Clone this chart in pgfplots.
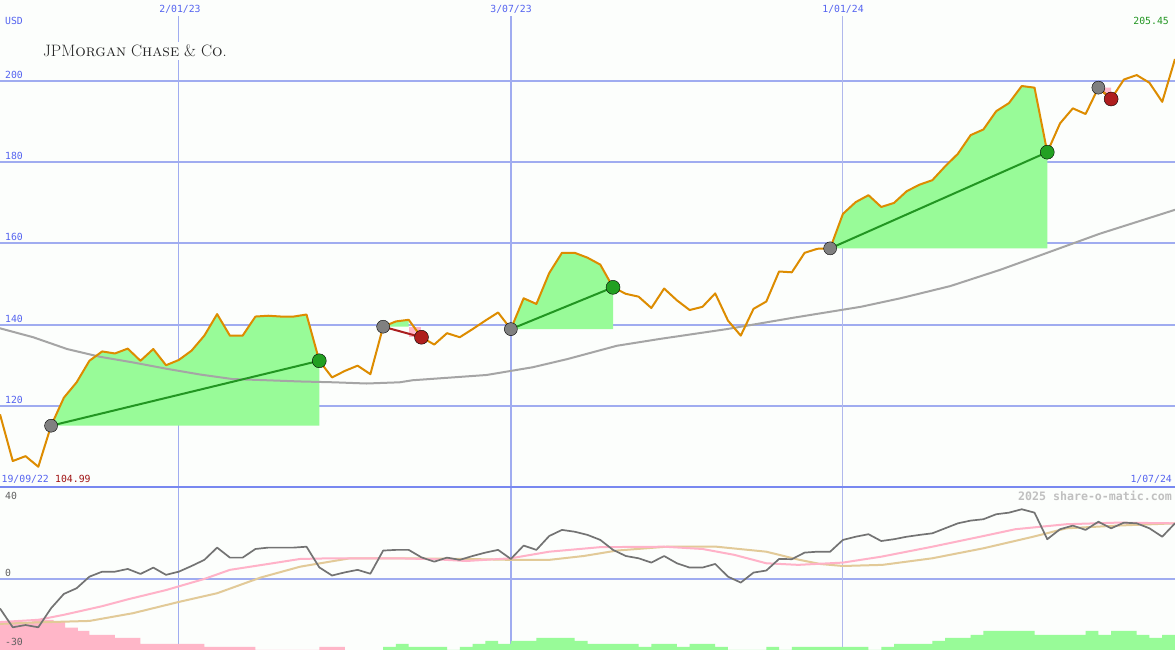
\documentclass[border=0pt]{standalone}
\usepackage{pgfplots}
\pgfplotsset{compat=1.18}
\usepackage{fontspec}
\newfontfamily\monofont{DejaVu Sans Mono}
\definecolor{bg}{RGB}{252,254,252}
\definecolor{lblue}{RGB}{85,100,240}
\definecolor{gridb}{RGB}{160,172,240}
\definecolor{gridc}{RGB}{176,184,236}
\definecolor{sepb}{RGB}{120,136,240}
\definecolor{priceor}{RGB}{221,140,0}
\definecolor{magrey}{RGB}{165,165,165}
\definecolor{fillg}{RGB}{152,251,152}
\definecolor{fillp}{RGB}{255,182,200}
\definecolor{tradeg}{RGB}{34,150,34}
\definecolor{trader}{RGB}{170,30,30}
\definecolor{dotg}{RGB}{34,160,34}
\definecolor{dotr}{RGB}{175,30,30}
\definecolor{dotgrey}{RGB}{128,128,128}
\definecolor{oscgrey}{RGB}{115,115,115}
\definecolor{pinkl}{RGB}{255,178,200}
\definecolor{tanl}{RGB}{226,202,152}
\definecolor{wm}{RGB}{192,192,192}
\definecolor{lgrey}{RGB}{96,96,96}
\definecolor{numgreen}{RGB}{34,150,34}
\definecolor{numred}{RGB}{160,20,20}
\pgfplotsset{
  panel/.style={scale only axis, width=1175pt, xmin=0, xmax=92,
    axis line style={draw=none}, tick style={draw=none},
    xticklabels={}, yticklabels={}, anchor=south west}
}
\newcommand{\lbl}{\monofont\fontsize{9.8}{10}\selectfont}
\begin{document}
\begin{tikzpicture}[x=1pt,y=1pt]
\path[use as bounding box, fill=bg] (0,0) rectangle (1175,650);

% ---------------- top panel ----------------
\begin{axis}[panel, at={(0pt,163pt)}, height=487pt, ymin=100, ymax=220,
  ytick={120,140,160,180,200}, xtick=\empty, ymajorgrids,
  grid style={gridb, line width=2pt}]
\draw[gridb, line width=1.2pt] (axis cs:14,100) -- (axis cs:14,216);
\draw[gridb, line width=1.8pt] (axis cs:40,100) -- (axis cs:40,216);
\draw[gridc, line width=1pt] (axis cs:66,100) -- (axis cs:66,216);
% trade fills
\addplot[fill=fillg, draw=none] coordinates {(4,115.1) (5,122.0) (6,125.8) (7,131.1) (8,133.4) (9,132.9) (10,134.1) (11,131.1) (12,134.0) (13,130.0) (14,131.3) (15,133.6) (16,137.3) (17,142.6) (18,137.3) (19,137.3) (20,142.0) (21,142.2) (22,142.0) (23,142.0) (24,142.5) (25,131.1) (25,115.1)} -- cycle;
\addplot[fill=fillg, draw=none] coordinates {(30,139.5) (31,140.8) (32,141.2) (32,139.5)} -- cycle;
\addplot[fill=fillp, draw=none] coordinates {(32,139.5) (33,139.5) (33,136.9) (32,136.9)} -- cycle;
\addplot[fill=fillg, draw=none] coordinates {(40,138.9) (41,146.5) (42,145.1) (43,152.7) (44,157.7) (45,157.7) (46,156.5) (47,154.8) (48,149.2) (48,138.9)} -- cycle;
\addplot[fill=fillg, draw=none] coordinates {(65,158.8) (66,167.3) (67,170.2) (68,171.9) (69,169.0) (70,170.0) (71,172.9) (72,174.5) (73,175.6) (74,179.0) (75,182.1) (76,186.7) (77,188.1) (78,192.6) (79,194.6) (80,198.8) (81,198.4) (82,182.5) (82,158.8)} -- cycle;
\addplot[fill=fillp, draw=none] coordinates {(86,198.4) (87,198.4) (87,195.6)} -- cycle;
% moving average
\addplot[magrey, line width=2pt] coordinates {(0,139.1) (2.6,136.9) (5.25,134.0) (7.8,132.1) (10.4,130.7) (13.1,129.1) (15.7,127.7) (18.2,126.6) (20.9,126.3) (23.5,126.0) (26.1,125.8) (28.7,125.5) (31.3,125.8) (32.3,126.3) (38.1,127.6) (41.7,129.5) (44.4,131.5) (48.3,134.8) (51.7,136.5) (56.9,138.9) (62.1,141.7) (67.4,144.4) (70.5,146.5) (74.4,149.5) (78.3,153.5) (80.5,156.0) (86.1,162.4) (92,168.3)};
% trade lines
\addplot[tradeg, line width=2pt] coordinates {(4,115.1) (25,131.1)};
\addplot[trader, line width=2pt] coordinates {(30,139.5) (33,136.9)};
\addplot[tradeg, line width=2pt] coordinates {(40,138.9) (48,149.2)};
\addplot[tradeg, line width=2pt] coordinates {(65,158.8) (82,182.5)};
\addplot[trader, line width=2pt] coordinates {(86,198.4) (87,195.6)};
% dots
\addplot[only marks, mark=*, mark size=6.5pt, mark options={fill=dotgrey, draw=none}] coordinates {(4,115.1) (30,139.5) (40,138.9) (65,158.8) (86,198.4)};
\addplot[only marks, mark=*, mark size=7pt, mark options={fill=dotg, draw=none}] coordinates {(25,131.1) (48,149.2) (82,182.5)};
\addplot[only marks, mark=*, mark size=7pt, mark options={fill=dotr, draw=none}] coordinates {(33,136.9) (87,195.6)};
% price
\addplot[priceor, line width=2pt, line join=round] coordinates {
(0,117.9) (1,106.4) (2,107.6) (3,104.99) (4,115.1) (5,122.0) (6,125.8) (7,131.1) (8,133.4) (9,132.9)
(10,134.1) (11,131.1) (12,134.0) (13,130.0) (14,131.3) (15,133.6) (16,137.3) (17,142.6) (18,137.3) (19,137.3)
(20,142.0) (21,142.2) (22,142.0) (23,142.0) (24,142.5) (25,131.1) (26,127.0) (27,128.6) (28,129.9) (29,127.8)
(30,139.5) (31,140.8) (32,141.2) (33,136.9) (34,135.1) (35,137.9) (36,136.9) (37,138.9) (38,141.0) (39,143.0)
(40,138.9) (41,146.5) (42,145.1) (43,152.7) (44,157.7) (45,157.7) (46,156.5) (47,154.8) (48,149.2) (49,147.6)
(50,146.9) (51,144.1) (52,148.9) (53,146.0) (54,143.6) (55,144.4) (56,147.7) (57,141.0) (58,137.3) (59,143.9)
(60,145.7) (61,153.1) (62,152.9) (63,157.7) (64,158.7) (65,158.8) (66,167.3) (67,170.2) (68,171.9) (69,169.0)
(70,170.0) (71,172.9) (72,174.5) (73,175.6) (74,179.0) (75,182.1) (76,186.7) (77,188.1) (78,192.6) (79,194.6)
(80,198.8) (81,198.4) (82,182.5) (83,189.6) (84,193.3) (85,191.9) (86,198.4) (87,195.6) (88,200.4) (89,201.5)
(90,199.6) (91,194.9) (92,205.45)};
\end{axis}

% ---------------- bottom panel: bars + grid ----------------
\begin{axis}[panel, at={(0pt,0pt)}, height=163pt, ymin=0, ymax=163,
  ytick={71}, xtick=\empty, ymajorgrids, grid style={gridb, line width=2pt}]
\draw[gridb, line width=1.2pt] (axis cs:14,0) -- (axis cs:14,163);
\draw[gridb, line width=1.8pt] (axis cs:40,0) -- (axis cs:40,163);
\draw[gridc, line width=1pt] (axis cs:66,0) -- (axis cs:66,163);
\addplot[const plot, fill=fillp, draw=none] coordinates {(0,28) (2.5,30) (4.2,28) (5.1,22.3) (6.1,19) (7,15) (9,12) (11,6) (16,3) (20,0) (25,3) (27,0)} \closedcycle;
\addplot[const plot, fill=fillg, draw=none] coordinates {(30,3) (31,6) (32,3) (35,0) (36,3) (37,6) (38,9) (39,6) (40,9) (42,12) (45,9) (46,6) (50,3) (51,6) (53,3) (54,6) (56,3) (57,0) (60,3) (61,0) (62,3) (68,0) (69,3) (70,6) (73,9) (74,12) (76,15) (77,19) (81,15) (85,19) (86,15) (87,19) (89,15) (90,12) (91,15) (92,15)} \closedcycle;
\end{axis}

% ---------------- bottom panel: lines ----------------
\begin{axis}[panel, at={(0pt,0pt)}, height=163pt, ymin=-31.3, ymax=40.5,
  xtick=\empty, ytick=\empty]
\addplot[tanl, line width=2pt] coordinates {(0,-19.8) (2.6,-19.2) (7,-18.5) (10.4,-15.1) (14.1,-10) (17,-6.3) (20.4,0.6) (23.5,5.4) (27.4,9.1) (31.3,9.1) (36.6,8.8) (40,8.4) (43,8.4) (45.7,10.1) (48.3,12.5) (52.2,14.2) (56.1,14.2) (60,12) (62.6,8.4) (64.2,6.6) (66,5.7) (69.1,6.2) (73,9.1) (77,13.5) (80.9,18.6) (83.5,22.3) (87.5,23.5) (92,24.5)};
\addplot[pinkl, line width=2pt] coordinates {(0,-19) (3,-18) (5,-15.8) (8,-12) (10,-9) (13,-4.9) (16,0) (18,4) (21,6.6) (23.5,8.8) (26,9.1) (31,9.1) (34,8.7) (36.5,7.9) (40,9.1) (43,12) (47,14) (52,14.2) (55,13.2) (57.5,10.6) (60,6.9) (62.5,6.2) (66,7.2) (69,9.8) (73,14.2) (77,18.9) (79.5,21.9) (83.5,24.1) (87.5,24.8) (92,24.5)};
\addplot[oscgrey, line width=1.7pt, line join=round] coordinates {
(0,-13) (1,-21.3) (2,-20.3) (3,-21.3) (4,-12.9) (5,-6.6) (6,-4.1) (7,1.0) (8,3.2) (9,3.2)
(10,4.4) (11,2.2) (12,5.0) (13,1.8) (14,3.2) (15,5.7) (16,8.4) (17,13.8) (18,9.4) (19,9.4)
(20,13.2) (21,13.8) (22,13.8) (23,13.8) (24,14.2) (25,5.1) (26,1.5) (27,2.9) (28,4.0) (29,2.3)
(30,12.5) (31,12.8) (32,12.8) (33,9.5) (34,7.6) (35,9.4) (36,8.4) (37,10.1) (38,11.6) (39,12.8)
(40,8.8) (41,14.7) (42,12.8) (43,18.9) (44,21.6) (45,20.8) (46,19.4) (47,17.2) (48,12.8) (49,10.1)
(50,9.1) (51,7.2) (52,10.1) (53,6.9) (54,5.0) (55,5.0) (56,6.6) (57,1.0) (58,-1.6) (59,2.8)
(60,3.7) (61,8.8) (62,8.7) (63,11.6) (64,12.0) (65,12.0) (66,17.2) (67,18.6) (68,19.7) (69,16.7)
(70,17.5) (71,18.6) (72,19.4) (73,20.1) (74,22.3) (75,24.5) (76,25.7) (77,26.3) (78,28.5) (79,29.2)
(80,30.7) (81,29.2) (82,17.5) (83,21.9) (84,23.5) (85,21.6) (86,25.2) (87,22.3) (88,24.8) (89,24.5)
(90,22.3) (91,18.6) (92,24.5)};
\end{axis}

% separator
\draw[sepb, line width=2.5pt] (0,163) -- (1175,163);

% texts
\node[anchor=base west, inner sep=3pt, fill=bg, text=black!85, font=\fontsize{16.5}{17}\selectfont] at (40,593.7) {JPM\textsc{organ} C\textsc{hase} \& C\textsc{o}.};
\node[anchor=west, inner sep=0pt, text=lblue, font=\lbl] at (5,629) {USD};
\node[anchor=west, inner sep=0pt, text=lblue, font=\lbl] at (5,575) {200};
\node[anchor=west, inner sep=0pt, text=lblue, font=\lbl] at (5,494) {180};
\node[anchor=west, inner sep=0pt, text=lblue, font=\lbl] at (5,413) {160};
\node[anchor=west, inner sep=0pt, text=lblue, font=\lbl] at (5,331) {140};
\node[anchor=west, inner sep=0pt, text=lblue, font=\lbl] at (5,250) {120};
\node[inner sep=1pt, fill=bg, text=lblue, font=\lbl] at (180,641) {2/01/23};
\node[inner sep=1pt, fill=bg, text=lblue, font=\lbl] at (511,641) {3/07/23};
\node[inner sep=1pt, fill=bg, text=lblue, font=\lbl] at (843,641) {1/01/24};
\node[anchor=east, inner sep=0pt, text=numgreen, font=\lbl] at (1169,629) {205.45};
\node[anchor=west, inner sep=0pt, text=lblue, font=\lbl] at (1.5,170.7) {19/09/22};
\node[anchor=west, inner sep=0pt, text=numred, font=\lbl] at (55,170.7) {104.99};
\node[anchor=east, inner sep=0pt, text=lblue, font=\lbl] at (1172,171) {1/07/24};
\node[anchor=east, inner sep=0pt, text=wm, font=\monofont\bfseries\fontsize{11.6}{12}\selectfont] at (1172,154) {2025 share-o-matic.com};
\node[anchor=west, inner sep=0pt, text=lgrey, font=\lbl] at (5,154) {40};
\node[anchor=west, inner sep=0pt, text=lgrey, font=\lbl] at (5,77) {0};
\node[anchor=west, inner sep=0pt, text=lgrey, font=\lbl] at (5,8.3) {-30};
\end{tikzpicture}
\end{document}
